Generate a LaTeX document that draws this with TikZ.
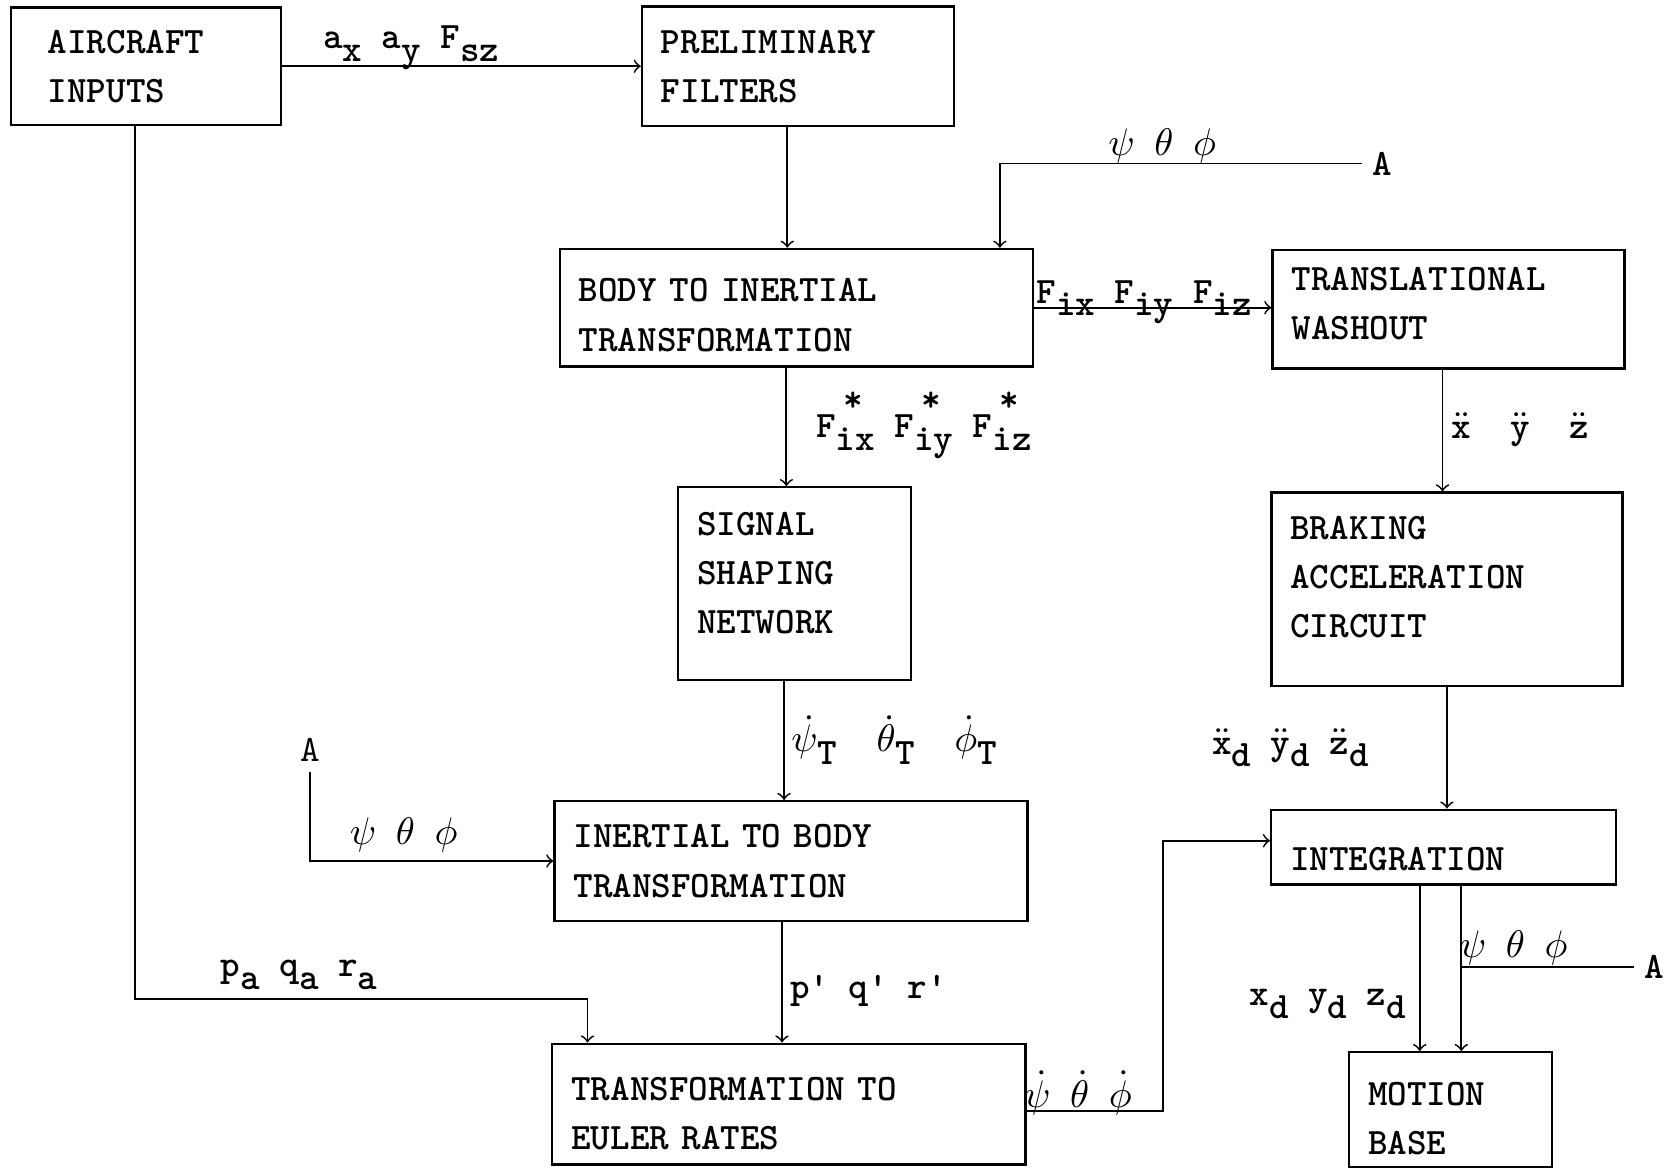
\documentclass[tikz,border=0pt]{standalone}
\usepackage{fontspec}
\usepackage{tikz}

\newcommand{\dn}[1]{\raisebox{-0.8ex}{#1}}
\newcommand{\ddt}[1]{\ensuremath{\ddot{\mbox{#1}}}}
\newcommand{\Fst}[1]{F\rlap{\raisebox{1.6ex}{\kern0.2em*}}\dn{#1}}
% extra room above the first line / below the last line of a block
\newcommand{\xtop}[2]{\raisebox{0pt}[\dimexpr\height+#1\relax]{#2}}
\newcommand{\xbot}[2]{\raisebox{0pt}[\height][\dimexpr\depth+#1\relax]{#2}}

\begin{document}
\begin{tikzpicture}[x=0.1068mm, y=-0.1068mm, line width=0.5pt,
	blk/.style={draw, line width=0.65pt, align=left, inner xsep=1.9mm, inner ysep=0pt,
		font=\ttfamily\bfseries\fontsize{10.6}{14}\selectfont},
	lbl/.style={font=\ttfamily\bfseries\fontsize{10.6}{12}\selectfont, inner sep=0pt},
	albl/.style={lbl, inner sep=1mm}]
	\useasboundingbox (0, 0) rectangle (1568, 1093);
	% blocks
	\node [blk, inner xsep=3.7mm, text width=19.6mm, minimum height=11.75mm] (air) at (136.5, 62) {AIRCRAFT\\INPUTS};
	\node [blk, text width=27.4mm, minimum height=11.96mm] (pre) at (747, 62) {PRELIMINARY\\FILTERS};
	\node [blk, text width=43.5mm, minimum height=11.75mm] (bti) at (745.5, 288) {\xtop{1.5mm}{BODY TO INERTIAL}\\TRANSFORMATION};
	\node [blk, text width=31.4mm, minimum height=11.85mm] (wsh) at (1356, 289.5) {TRANSLATIONAL\\\xbot{1.07mm}{WASHOUT}};
	\node [blk, text width=19.5mm, minimum height=19.3mm] (ssn) at (744, 546.5) {SIGNAL\\SHAPING\\\xbot{2.1mm}{NETWORK}};
	\node [blk, text width=31.3mm, minimum height=19.3mm] (brk) at (1354.5, 551.5) {BRAKING\\ACCELERATION\\\xbot{2.35mm}{CIRCUIT}};
	\node [blk, text width=43.5mm, minimum height=11.96mm] (itb) at (740.5, 806) {INERTIAL TO BODY\\TRANSFORMATION};
	\node [blk, text width=43.5mm, minimum height=12.07mm] (eul) at (738.5, 1033.5) {\xtop{1.9mm}{TRANSFORMATION TO}\\EULER RATES};
	\node [blk, text width=30.7mm, minimum height=7.48mm] (int) at (1351.5, 793) {\xtop{2.35mm}{INTEGRATION}};
	\node [blk, text width=16.5mm, minimum height=11.53mm] (mtb) at (1358, 1039) {\xtop{1.7mm}{MOTION}\\BASE};
	% loose ends
	\node [albl] (a1) at (1294, 153) {A};
	\node [albl, font=\ttfamily\fontsize{10.6}{12}\selectfont] (a2) at (290, 702) {A};
	\node [albl] (a3) at (1549, 905) {A};
	\coordinate (pqa) at (550, 935);
	% connectors
	\draw [->] (air.east) -- (pre.west);
	\draw [->] (air.south west) ++(117, 0) |- (pqa) -- (pqa |- eul.north);
	\draw [->] ([xshift=-1.07mm]pre.south) -- ([xshift=-1.07mm]pre.south |- bti.north);
	\draw [->] (a1.west) -| ([xshift=-3.42mm]bti.north east);
	\draw [->] (bti.east) -- (bti.east -| wsh.west);
	\draw [->] ([xshift=-1mm]bti.south) -- ([xshift=-1mm]bti.south |- ssn.north);
	\draw [->] ([xshift=-0.6mm]wsh.south) -- ([xshift=-0.6mm]wsh.south |- brk.north);
	\draw [->] ([xshift=-1.07mm]ssn.south) -- ([xshift=-1.07mm]ssn.south |- itb.north);
	\draw [->] (brk.south) -- (brk.south |- int.north);
	\draw [->] (a2.south) |- (itb.west);
	\draw [->] ([xshift=-0.9mm]itb.south) -- ([xshift=-0.9mm]itb.south |- eul.north);
	\draw [->] ([yshift=-0.7mm]eul.east) -- ++(128, 0) |- ([yshift=0.64mm]int.west);
	\draw [->] ([xshift=-2.4mm]int.south) -- ([xshift=-2.4mm]int.south |- mtb.north);
	\draw [->] ([xshift=1.76mm]int.south) -- ([xshift=1.76mm]int.south |- mtb.north);
	\draw (a3.west) -- ([xshift=1.76mm]int.south |- a3.west);
	% signal labels
	\node [lbl] (lax) at (385, 45) {a\dn{x} a\dn{y} F\dn{sz}};
	\node [lbl] (lpsi1) at (1088, 137) {$\psi$ $\theta$ $\phi$};
	\node [lbl] (lfi) at (1071, 283) {F\dn{ix} F\dn{iy} F\dn{iz}};
	\node [lbl] (lfs) at (865, 398) {\Fst{ix} \Fst{iy} \Fst{iz}};
	\node [lbl] (lxyz) at (1423, 402) {\ddt{x}~~\ddt{y}~~\ddt{z}};
	\node [lbl, anchor=west] (ldT) at (740, 693) {$\dot\psi$\dn{T}~~$\dot\theta$\dn{T}~~$\dot\phi$\dn{T}};
	\node [lbl] (lxd) at (1208, 700) {\ddt{x}\dn{d} \ddt{y}\dn{d} \ddt{z}\dn{d}};
	\node [lbl] (lpsi2) at (378, 782) {$\psi$ $\theta$ $\phi$};
	\node [lbl] (lpqa) at (280, 913) {p\dn{a} q\dn{a} r\dn{a}};
	\node [lbl] (lpqr) at (813, 928) {p' q' r'};
	\node [lbl] (ldE) at (1009, 1023) {$\dot\psi$ $\dot\theta$ $\dot\phi$};
	\node [lbl] (lxyzd) at (1243, 940) {x\dn{d} y\dn{d} z\dn{d}};
	\node [lbl] (lpsi3) at (1417, 887) {$\psi$ $\theta$ $\phi$};
\end{tikzpicture}
\end{document}
